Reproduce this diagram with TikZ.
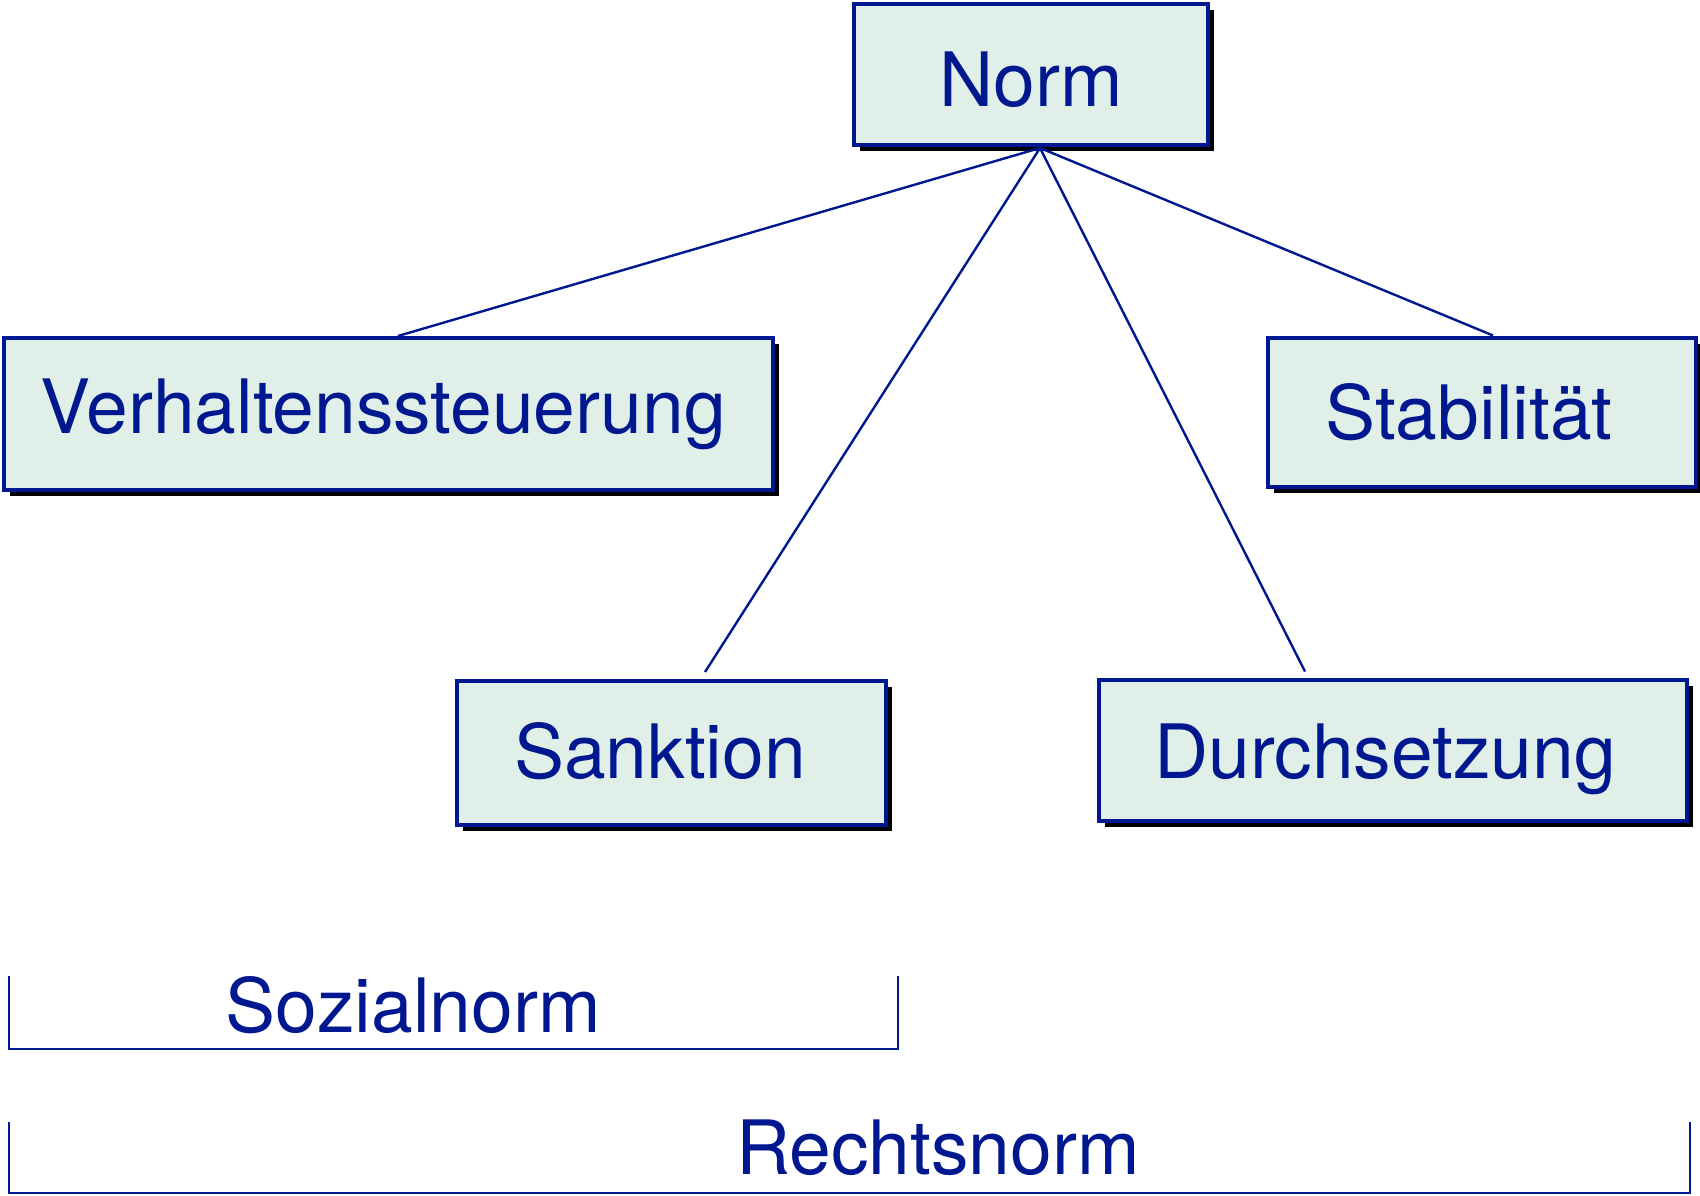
\documentclass[tikz,border=0pt]{standalone}
\usepackage{fontspec}
\setmainfont{TeX Gyre Heros}
\usetikzlibrary{shadows}
\definecolor{ink}{HTML}{00188F}
\definecolor{boxfill}{HTML}{E0EFE7}
\begin{document}
\begin{tikzpicture}[x=1pt,y=-1pt,
  box/.style={draw=ink, line width=4pt, fill=boxfill, inner sep=0pt,
    general shadow={fill=black, shadow xshift=6pt, shadow yshift=-6pt}},
  conn/.style={draw=ink, line width=2.4pt},
  brace/.style={draw=ink, line width=2.6pt},
  label/.style={text=ink, inner sep=0pt, font=\fontsize{75}{90}\selectfont}]
\useasboundingbox (0,0) rectangle (1700,1196);

% boxes
\node[box, minimum width=354pt, minimum height=141pt] (norm) at (1031,75) {};
\node[box, minimum width=769pt, minimum height=152pt] (verh) at (388,414) {};
\node[box, minimum width=428pt, minimum height=149pt] (stab) at (1482,412) {};
\node[box, minimum width=429pt, minimum height=144pt] (sank) at (671,753) {};
\node[box, minimum width=588pt, minimum height=141pt] (durch) at (1393,750) {};

% box captions
\node[label] (normtext)  at ([yshift=-5pt]norm.center) {Norm};
\node[label] (verhtext)  at ([xshift=-5pt]verh.center) {Verhaltenssteuerung};
\node[label] (stabtext)  at ([xshift=-13pt]stab.center) {Stabilität};
\node[label] (sanktext)  at ([xshift=-11pt,yshift=2pt]sank.center) {Sanktion};
\node[label] (durchtext) at ([xshift=-8pt,yshift=-9pt]durch.center) {Durchsetzung};

% connectors from the common point under "Norm"
\coordinate (hub) at (1040,148);
\draw[conn] (hub) -- ([xshift=10pt]verh.north);
\draw[conn] (hub) -- ([xshift=11pt]stab.north);
\draw[conn] (hub) -- ([xshift=34pt,yshift=7pt]sank.north);
\draw[conn] (hub) -- ([xshift=-88pt,yshift=6pt]durch.north);

% brackets
\draw[brace] (9,976) |- (898,1049) -- (898,976);
\node[label, anchor=base] (sozial) at (413,1032) {Sozialnorm};
\draw[brace] (9,1122) |- (1690,1193) -- (1690,1122);
\node[label, anchor=base] (recht) at (938,1174) {Rechtsnorm};
\end{tikzpicture}
\end{document}
